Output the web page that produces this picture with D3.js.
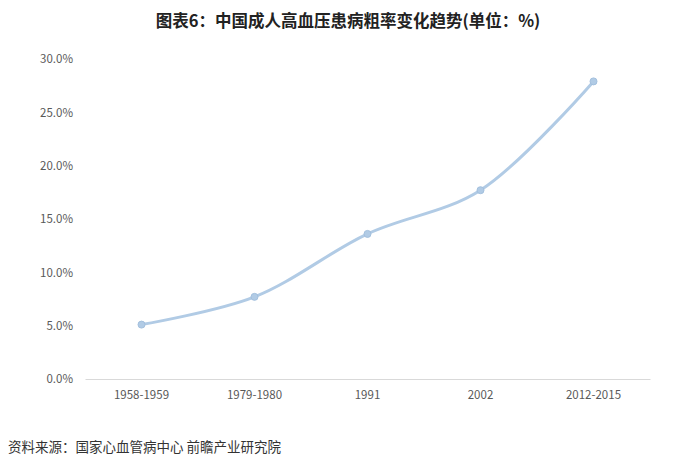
<!DOCTYPE html>
<html><head><meta charset="utf-8">
<script src="https://cdn.jsdelivr.net/npm/d3@7"></script>
<style>
html,body{margin:0;padding:0;background:#fff;}
svg{display:block;font-family:"Noto Sans CJK SC","Noto Sans",sans-serif;}
</style></head>
<body>
<svg id="chart" width="700" height="471"></svg>
<script>
const categories = ["1958-1959", "1979-1980", "1991", "2002", "2012-2015"];
const values = [5.1, 7.7, 13.6, 17.7, 27.9];
const yTicks = [0, 5, 10, 15, 20, 25, 30];
const title = "图表6：中国成人高血压患病粗率变化趋势(单位：%)";
const source = "资料来源：国家心血管病中心 前瞻产业研究院";

const svg = d3.select("#chart");
const W = 700, H = 471;
const m = {left: 85, right: 50, top: 59, bottom: 92};
const x = d3.scaleBand().domain(categories).range([m.left, W - m.right]);
const y = d3.scaleLinear().domain([0, 30]).range([H - m.bottom, m.top]);

svg.append("text").attr("x", 348).attr("y", 27).attr("text-anchor", "middle")
  .attr("font-size", 16.5).attr("font-weight", "bold").attr("fill", "#222").text(title);

// y axis labels
const ya = svg.append("g").attr("transform", `translate(${m.left},0)`)
  .call(d3.axisLeft(y).tickValues(yTicks).tickFormat(d => d.toFixed(1) + "%").tickSize(0).tickPadding(12));
ya.select(".domain").remove();
ya.selectAll("text").attr("font-size", 11.5).attr("fill", "#595959")
  .attr("font-family", "'Noto Sans CJK SC','Noto Sans',sans-serif");

// x axis
const xa = svg.append("g").attr("transform", `translate(0,${y(0)})`)
  .call(d3.axisBottom(x).tickSize(0).tickPadding(12));
xa.select(".domain").attr("stroke", "#d9d9d9");
xa.selectAll("text").attr("font-size", 11.5).attr("fill", "#595959")
  .attr("font-family", "'Noto Sans CJK SC','Noto Sans',sans-serif");

const pts = categories.map((c, i) => [x(c) + x.bandwidth() / 2, y(values[i])]);
const line = d3.line().curve(d3.curveCatmullRom.alpha(0.5));
svg.append("path").attr("d", line(pts)).attr("fill", "none")
  .attr("stroke", "#b1cbe5").attr("stroke-width", 3).attr("stroke-linecap", "round");

svg.selectAll("circle.pt").data(pts).join("circle").attr("class", "pt")
  .attr("cx", d => d[0]).attr("cy", d => d[1]).attr("r", 3.5)
  .attr("fill", "#b1cbe5").attr("stroke", "#a3c0de").attr("stroke-width", 1);

svg.append("text").attr("x", 8).attr("y", 452).attr("font-size", 13.5)
  .attr("fill", "#333").text(source);
</script>
</body></html>
